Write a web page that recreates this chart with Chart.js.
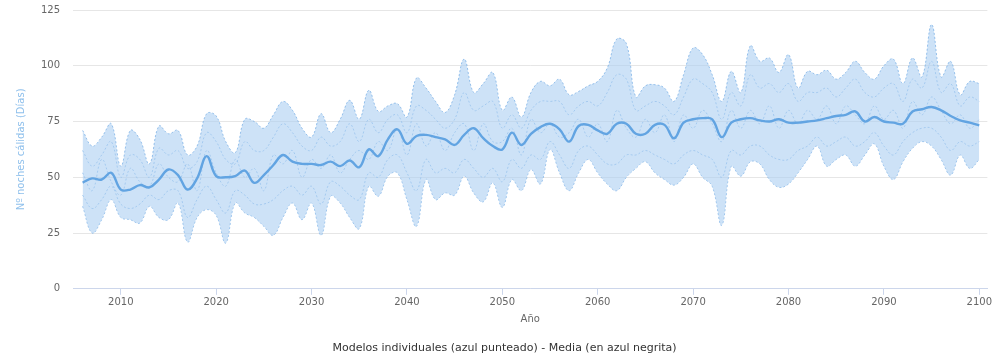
<!DOCTYPE html>
<html>
<head>
<meta charset="utf-8">
<script src="https://cdn.jsdelivr.net/npm/chart.js@4.4.1/dist/chart.umd.min.js"></script>
<style>
  html, body { margin: 0; padding: 0; background: #fff; }
  #wrap { position: relative; width: 994px; height: 359px; }
</style>
</head>
<body>
<div id="wrap"><canvas id="grafico"></canvas></div>
<script>
// Años de la proyección
const anios = [];
for (let a = 2006; a <= 2100; a++) anios.push(a);

// Envolvente superior de los modelos (días)
const modeloMax = [
  71, 64, 68, 74, 55, 71, 67, 56, 73, 69.5,
  71, 60, 64, 78.5, 77.5, 66, 61, 76, 75, 72,
  78, 84, 80, 72, 68, 78.5, 70, 76, 84.5, 76,
  89, 79.5, 82, 83, 77, 94.5, 90, 84, 79, 87,
  103, 88, 92, 97, 80, 86, 77, 88, 93, 91,
  94, 87, 88.5, 91, 93, 99, 112, 110, 86, 91,
  91.5, 90, 84, 96, 108, 105, 96, 84, 97.5, 88,
  109, 102, 103.5, 97, 105, 90, 97.5, 96, 98, 94,
  97, 102, 97, 94, 100, 103, 92, 103.5, 95, 118.5,
  95, 102, 87, 93, 92
];

// Modelos intermedios
const modeloA = [
  62, 55, 60, 66, 50, 60, 58, 50, 63, 60,
  62, 54, 57, 70, 66, 58, 56, 66, 62, 62,
  68, 74, 70, 64, 62, 68, 64, 66, 74, 66,
  76, 70, 76, 78, 70, 82, 80, 76, 72, 76,
  88, 80, 82, 84, 72, 78, 72, 80, 84, 84,
  84, 78, 82, 84, 82, 88, 96, 94, 80, 82,
  84, 82, 78, 86, 94, 92, 88, 76, 88, 82,
  96, 90, 92, 88, 92, 84, 88, 88, 90, 86,
  90, 94, 88, 86, 90, 92, 84, 94, 90, 102,
  88, 92, 82, 86, 84
];

const modeloB = [
  42, 36, 40, 46, 38, 36, 38, 42, 40, 44,
  44, 32, 40, 46, 40, 34, 44, 42, 38, 38,
  40, 44, 46, 42, 46, 38, 48, 46, 42, 40,
  52, 50, 58, 60, 52, 44, 58, 52, 54, 52,
  58, 54, 50, 54, 48, 58, 54, 60, 58, 66,
  60, 54, 62, 64, 60, 56, 56, 60, 60, 62,
  60, 58, 56, 60, 62, 60, 58, 50, 62, 60,
  64, 64, 60, 58, 58, 62, 64, 68, 64, 66,
  68, 64, 66, 70, 64, 60, 66, 70, 72, 72,
  68, 62, 66, 64, 66
];

const modeloC = [
  52, 44, 58, 48, 42, 54, 48, 46, 56, 50,
  48, 56, 44, 62, 52, 46, 58, 50, 54, 44,
  60, 56, 62, 50, 58, 54, 60, 52, 58, 62,
  58, 66, 62, 72, 60, 74, 64, 70, 62, 70,
  74, 62, 74, 66, 66, 72, 60, 76, 70, 74,
  68, 70, 76, 68, 74, 66, 80, 72, 68, 76,
  70, 78, 66, 78, 72, 80, 74, 66, 80, 72,
  80, 74, 82, 72, 80, 74, 80, 76, 82, 74,
  82, 78, 74, 82, 76, 80, 72, 84, 78, 86,
  80, 74, 78, 72, 76
];

// Envolvente inferior de los modelos (días)
const modeloMin = [
  37, 25, 31, 40, 32, 31, 29.5, 37, 32, 31,
  38.5, 21, 32, 35.5, 33, 20.5, 38.5, 34, 32, 28,
  24, 32, 38.5, 31, 38.5, 24, 41.5, 38.5, 32, 27,
  46, 41.5, 50.5, 52, 40, 28, 49, 40, 43, 42,
  50.5, 43, 39, 47.5, 36.5, 49, 44, 53.5, 47, 62.5,
  52, 44, 52, 58, 52, 47, 44, 50, 54, 57,
  52, 49, 46.5, 50, 56, 50, 46, 28.5, 55, 50.5,
  57, 56, 49, 45.5, 47, 52, 58, 64, 55, 58,
  60, 55, 60, 65, 55, 49, 57, 63, 66, 64,
  58, 51, 60, 54, 58
];

// Media del conjunto de modelos (días)
const media = [
  47.6, 49.5, 49, 52, 44.5, 44.5, 46.5, 45.5, 49, 53.5,
  51, 44.5, 49.5, 59.5, 50.5, 50, 50.5, 53, 47.5, 51,
  55.5, 60, 57, 56, 56, 55.5, 57, 55, 57.5, 54.5,
  62.5, 59.5, 67, 71.5, 65, 68.5, 69, 68, 67, 64.5,
  69, 72, 67.5, 64, 62.5, 70, 64.5, 69.5, 72.5, 74,
  71.5, 66, 73, 73.5, 71, 69.5, 74, 74, 69.5, 69.5,
  73.5, 73.5, 67.5, 74.5, 76, 76.5, 76, 68, 74.5, 76,
  76.5, 75.5, 75, 76, 74.5, 74.5, 75, 75.5, 76.5, 77.5,
  78, 79.5, 75, 77, 75, 74.5, 74, 79.5, 80.5, 81.5,
  80, 77.5, 75.5, 74.5, 73.3
];

const ticksAnio = [2010, 2020, 2030, 2040, 2050, 2060, 2070, 2080, 2090, 2100];
const ticksDias = [0, 25, 50, 75, 100, 125];

const puntos = serie => serie.map((v, i) => ({ x: anios[i], y: v }));

// estilo común de las líneas de cada modelo
const punteado = {
  borderColor: 'rgba(120,175,230,0.75)',
  borderWidth: 1,
  borderDash: [2, 2],
  pointRadius: 0,
  tension: 0.4,
  fill: false
};

const fuente = { family: 'DejaVu Sans', size: 10 };

new Chart(document.getElementById('grafico'), {
  type: 'line',
  data: {
    datasets: [
      {
        label: 'Media',
        data: puntos(media),
        borderColor: '#62a4e2',
        borderWidth: 2.4,
        pointRadius: 0,
        tension: 0.4,
        fill: false
      },
      Object.assign({}, punteado, { label: 'Modelo max', data: puntos(modeloMax), fill: 5, backgroundColor: 'rgba(172,207,242,0.6)' }),
      Object.assign({}, punteado, { label: 'Modelo A', data: puntos(modeloA) }),
      Object.assign({}, punteado, { label: 'Modelo C', data: puntos(modeloC) }),
      Object.assign({}, punteado, { label: 'Modelo B', data: puntos(modeloB) }),
      Object.assign({}, punteado, { label: 'Modelo min', data: puntos(modeloMin) })
    ]
  },
  options: {
    responsive: true,
    maintainAspectRatio: false,
    animation: false,
    layout: { padding: { left: 15, right: 0, top: 10, bottom: 0 } },
    plugins: {
      legend: { display: false },
      tooltip: { enabled: false },
      title: {
        display: true,
        position: 'bottom',
        text: 'Modelos individuales (azul punteado) - Media (en azul negrita)',
        color: '#333',
        font: { family: 'DejaVu Sans', size: 11, weight: 'normal' },
        padding: { top: 16, bottom: 4 }
      }
    },
    scales: {
      x: {
        type: 'linear',
        min: 2005.0,
        max: 2100.85,
        afterBuildTicks: ax => { ax.ticks = ticksAnio.map(v => ({ value: v })); },
        grid: { drawOnChartArea: false, drawTicks: true, tickLength: 6, color: '#ccd6eb' },
        border: { color: '#ccd6eb' },
        ticks: { color: '#666', font: fuente, padding: 2, maxRotation: 0, callback: v => String(v) },
        title: { display: true, text: 'Año', color: '#666', font: fuente, padding: { top: 3, bottom: 0 } }
      },
      y: {
        min: 0,
        max: 125,
        afterBuildTicks: ax => { ax.ticks = ticksDias.map(v => ({ value: v })); },
        // las marcas transparentes separan las etiquetas de la rejilla
        grid: { color: '#e6e6e6', drawTicks: true, tickLength: 11, tickColor: 'rgba(0,0,0,0)' },
        border: { display: false },
        ticks: { color: '#666', font: fuente, padding: 2 },
        title: { display: true, text: 'Nº noches cálidas (Días)', color: '#8fc0ec', font: fuente, padding: { top: 0, bottom: 12 } }
      }
    }
  }
});
</script>
</body>
</html>
